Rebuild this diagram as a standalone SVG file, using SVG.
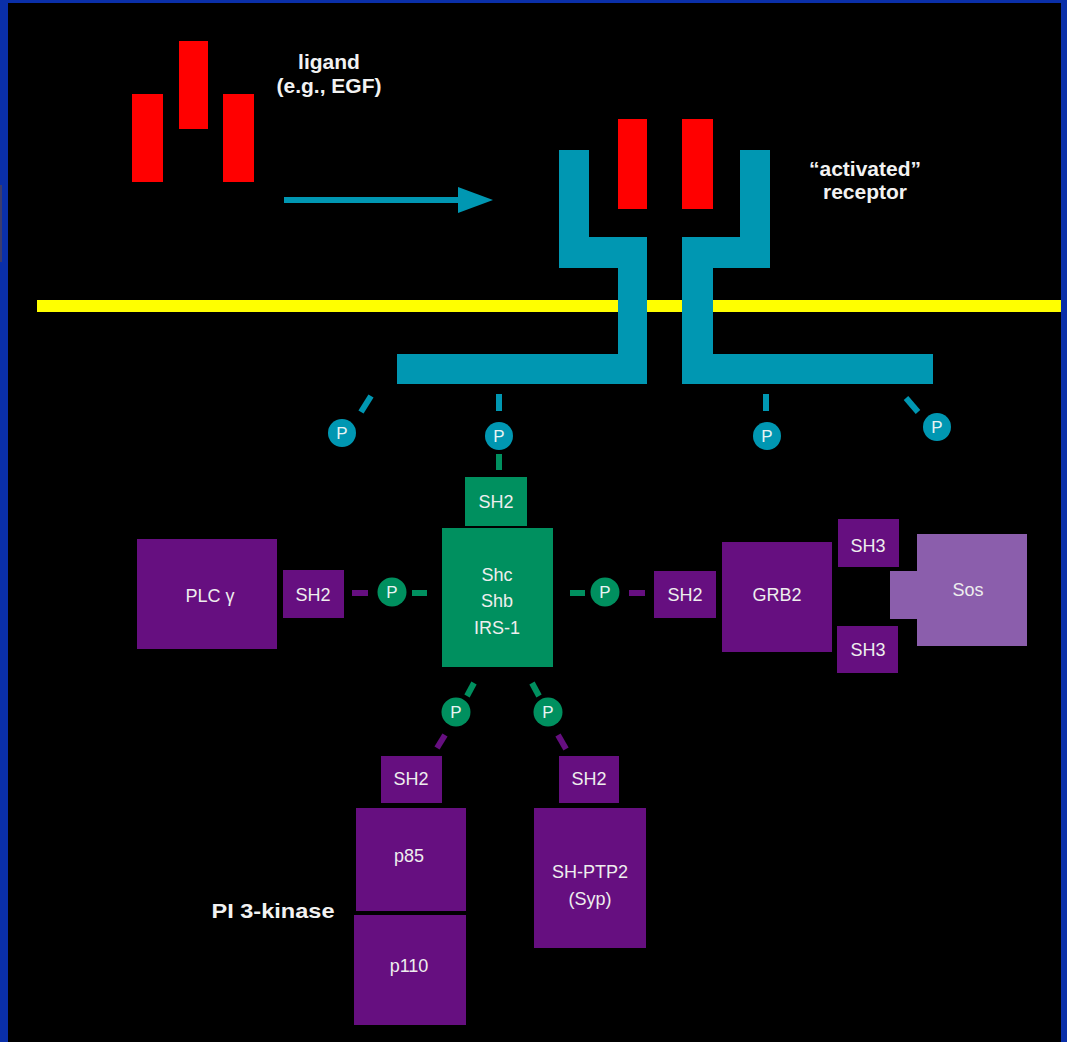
<svg xmlns="http://www.w3.org/2000/svg" width="1067" height="1042" viewBox="0 0 1067 1042">
  <defs>
    <style>
      .lbl { font-family: "Liberation Sans", Arial, sans-serif; font-size: 18px; fill: #eeeeee; text-anchor: middle; }
      .ttl { font-family: "Liberation Sans", Arial, sans-serif; font-size: 21px; font-weight: bold; fill: #f2f2f2; text-anchor: middle; }
      .plbl { font-family: "Liberation Sans", Arial, sans-serif; font-size: 17px; fill: #e8f4f4; text-anchor: middle; }
      .teal { fill: #0097b2; }
      .green { fill: #00905f; }
      .purple { fill: #660f80; }
      .sos { fill: #8b5eac; }
      .red { fill: #ff0000; }
      .dt { stroke: #0097b2; stroke-width: 6; }
      .dg { stroke: #00905f; stroke-width: 6; }
      .dp { stroke: #660f80; stroke-width: 6; }
    </style>
  </defs>

  <!-- background and frame -->
  <rect x="0" y="0" width="1067" height="1042" fill="#000000"/>
  <rect x="0" y="0" width="1067" height="3" fill="#0a2fa8"/>
  <rect x="0" y="0" width="8" height="1042" fill="#0a2fa8"/>
  <rect x="1061" y="0" width="6" height="1042" fill="#0a2fa8"/>
  <rect x="0" y="185" width="2" height="77" fill="#3c3c6c"/>

  <!-- membrane -->
  <rect id="membrane" x="37" y="300" width="1024" height="12" fill="#ffff00"/>

  <!-- ligand -->
  <g id="ligand">
    <rect class="red" x="132" y="94" width="31" height="88"/>
    <rect class="red" x="179" y="41" width="29" height="88"/>
    <rect class="red" x="223" y="94" width="31" height="88"/>
    <text class="ttl" x="329" y="69">ligand</text>
    <text class="ttl" x="329" y="93">(e.g., EGF)</text>
  </g>

  <!-- activated receptor -->
  <g id="receptor">
    <polygon class="teal" points="559,150 589,150 589,237 647,237 647,384 397,384 397,354 618,354 618,268 559,268"/>
    <polygon class="teal" points="740,150 770,150 770,268 713,268 713,354 933,354 933,384 682,384 682,237 740,237"/>
    <rect class="red" x="618" y="119" width="29" height="90"/>
    <rect class="red" x="682" y="119" width="31" height="90"/>
    <text class="ttl" x="865" y="176">“activated”</text>
    <text class="ttl" x="865" y="199">receptor</text>
  </g>

  <!-- connectors -->
  <g id="connectors">
    <rect x="284" y="197" width="176" height="6" fill="#0097b2"/>
    <polygon points="458,187 493,200 458,213" fill="#0097b2"/>
    <line class="dt" x1="371" y1="396" x2="361" y2="412"/>
    <line class="dt" x1="499" y1="394" x2="499" y2="411"/>
    <line class="dt" x1="766" y1="394" x2="766" y2="411"/>
    <line class="dt" x1="906" y1="398" x2="918" y2="412"/>
    <line class="dg" x1="499" y1="454" x2="499" y2="470"/>
    <line class="dp" x1="352" y1="593" x2="368" y2="593"/>
    <line class="dg" x1="412" y1="593" x2="427" y2="593"/>
    <line class="dg" x1="570" y1="593" x2="585" y2="593"/>
    <line class="dp" x1="629" y1="593" x2="645" y2="593"/>
    <line class="dg" x1="474" y1="683" x2="467" y2="696"/>
    <line class="dp" x1="445" y1="735" x2="437" y2="748"/>
    <line class="dg" x1="532" y1="683" x2="539" y2="696"/>
    <line class="dp" x1="558" y1="735" x2="566" y2="749"/>
  </g>

  <!-- phosphates on receptor -->
  <g id="pR1"><circle class="teal" cx="342" cy="433" r="14"/><text class="plbl" x="342" y="439">P</text></g>
  <g id="pR2"><circle class="teal" cx="499" cy="436" r="14"/><text class="plbl" x="499" y="442">P</text></g>
  <g id="pR3"><circle class="teal" cx="767" cy="436" r="14"/><text class="plbl" x="767" y="442">P</text></g>
  <g id="pR4"><circle class="teal" cx="937" cy="427" r="14"/><text class="plbl" x="937" y="433">P</text></g>

  <!-- Shc / Shb / IRS-1 -->
  <g id="shc">
    <rect class="green" x="465" y="477" width="62" height="49"/>
    <text class="lbl" x="496" y="508">SH2</text>
    <rect class="green" x="442" y="528" width="111" height="139"/>
    <text class="lbl" x="497" y="581">Shc</text>
    <text class="lbl" x="497" y="607">Shb</text>
    <text class="lbl" x="497" y="634">IRS-1</text>
  </g>

  <!-- phosphates on Shc -->
  <g id="pS1"><circle class="green" cx="392" cy="592" r="14.5"/><text class="plbl" x="392" y="598">P</text></g>
  <g id="pS2"><circle class="green" cx="605" cy="592" r="14.5"/><text class="plbl" x="605" y="598">P</text></g>
  <g id="pS3"><circle class="green" cx="456" cy="712" r="14.5"/><text class="plbl" x="456" y="718">P</text></g>
  <g id="pS4"><circle class="green" cx="548" cy="712" r="14.5"/><text class="plbl" x="548" y="718">P</text></g>

  <!-- PLC gamma -->
  <g id="plc">
    <rect class="purple" x="137" y="539" width="140" height="110"/>
    <text class="lbl" x="210" y="602">PLC γ</text>
    <rect class="purple" x="283" y="570" width="61" height="48"/>
    <text class="lbl" x="313" y="601">SH2</text>
  </g>

  <!-- GRB2 -->
  <g id="grb2">
    <rect class="purple" x="654" y="571" width="62" height="47"/>
    <text class="lbl" x="685" y="601">SH2</text>
    <rect class="purple" x="722" y="542" width="110" height="110"/>
    <text class="lbl" x="777" y="601">GRB2</text>
    <rect class="purple" x="838" y="519" width="61" height="48"/>
    <text class="lbl" x="868" y="552">SH3</text>
    <rect class="purple" x="837" y="626" width="61" height="47"/>
    <text class="lbl" x="868" y="656">SH3</text>
  </g>

  <!-- Sos -->
  <g id="sos">
    <polygon class="sos" points="917,534 1027,534 1027,646 917,646 917,619 890,619 890,571 917,571"/>
    <text class="lbl" x="968" y="596">Sos</text>
  </g>

  <!-- PI 3-kinase -->
  <g id="pi3k">
    <rect class="purple" x="381" y="756" width="61" height="47"/>
    <text class="lbl" x="411" y="785">SH2</text>
    <rect class="purple" x="356" y="808" width="110" height="103"/>
    <text class="lbl" x="409" y="862">p85</text>
    <rect class="purple" x="354" y="915" width="112" height="110"/>
    <text class="lbl" x="409" y="972">p110</text>
    <text class="ttl" x="273" y="918" font-size="22" textLength="123" lengthAdjust="spacingAndGlyphs">PI 3-kinase</text>
  </g>

  <!-- SH-PTP2 -->
  <g id="shptp2">
    <rect class="purple" x="559" y="756" width="60" height="47"/>
    <text class="lbl" x="589" y="785">SH2</text>
    <rect class="purple" x="534" y="808" width="112" height="140"/>
    <text class="lbl" x="590" y="878">SH-PTP2</text>
    <text class="lbl" x="590" y="905">(Syp)</text>
  </g>
</svg>
